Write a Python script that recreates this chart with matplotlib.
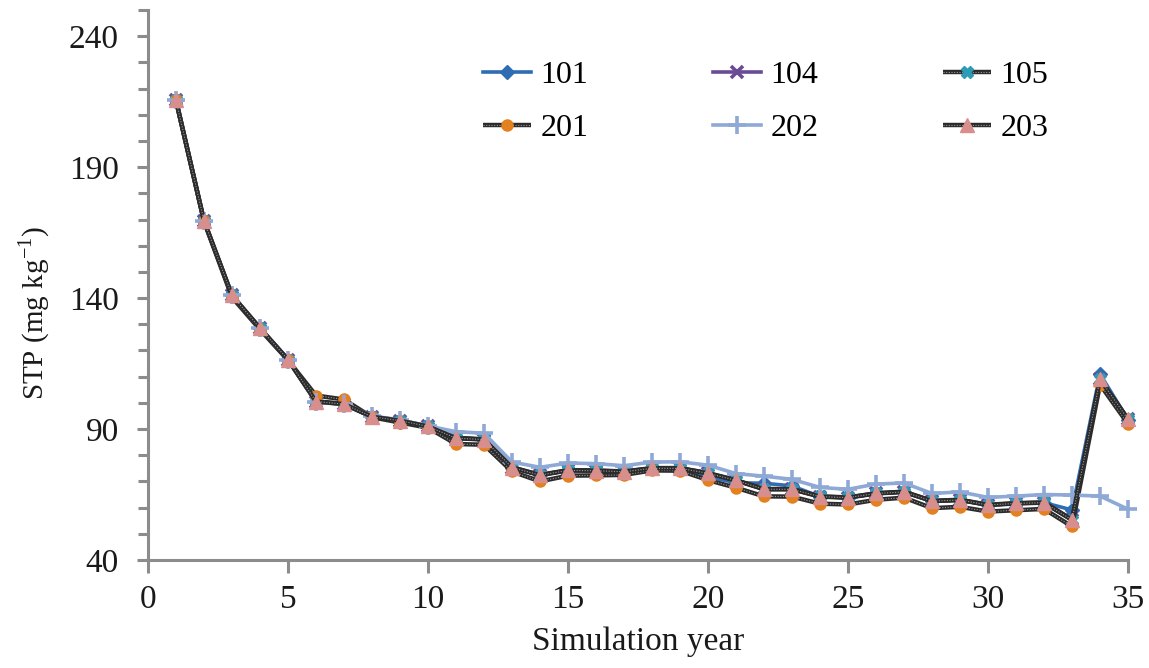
"""STP over simulation years for six scenarios, redrawn from the reference chart."""

import matplotlib

matplotlib.use("Agg")
import matplotlib.pyplot as plt
from matplotlib.legend_handler import HandlerTuple
from matplotlib.ticker import MultipleLocator

plt.rcParams["font.family"] = ["Liberation Serif", "DejaVu Serif"]
plt.rcParams["mathtext.fontset"] = "custom"
plt.rcParams["mathtext.rm"] = "Liberation Serif"

YEARS = list(range(1, 36))

STP_101 = [215.5, 169.5, 141.0, 128.5, 116.5, 100.5, 99.5, 94.5, 92.8, 90.6,
           86.8, 86.0, 75.3, 72.4, 74.2, 74.1, 73.7, 75.0, 75.0, 71.8,
           69.5, 69.3, 68.3, 64.2, 63.8, 65.4, 66.0, 62.5, 62.9, 61.0,
           61.6, 61.9, 59.1, 111.0, 93.6]
STP_104 = [215.5, 169.5, 141.0, 128.5, 116.5, 100.5, 99.5, 94.7, 93.2, 91.0,
           86.5, 86.0, 75.3, 72.4, 74.2, 74.1, 73.7, 75.0, 75.0, 73.1,
           70.4, 67.0, 67.0, 64.2, 63.8, 65.4, 66.0, 62.5, 62.9, 61.0,
           61.6, 61.9, 55.3, 109.0, 93.7]
STP_105 = [215.5, 169.5, 141.0, 128.5, 116.5, 100.6, 99.6, 94.7, 93.2, 91.0,
           86.6, 86.1, 75.4, 72.5, 74.3, 74.2, 73.8, 75.1, 75.1, 73.2,
           70.5, 67.1, 67.1, 64.3, 63.9, 65.5, 66.1, 62.6, 63.0, 61.1,
           61.7, 62.0, 55.4, 109.1, 93.8]
STP_201 = [215.5, 169.3, 140.3, 128.0, 116.3, 102.8, 101.3, 94.5, 92.5, 90.5,
           84.3, 84.0, 73.8, 70.0, 72.2, 72.3, 72.5, 74.2, 74.1, 70.5,
           67.6, 64.3, 64.2, 61.5, 61.2, 63.0, 63.8, 59.8, 60.3, 58.5,
           59.0, 59.5, 52.8, 107.0, 92.0]
STP_202 = [215.5, 169.5, 141.0, 128.5, 116.5, 100.2, 99.5, 95.0, 93.5, 91.2,
           89.0, 88.4, 77.4, 75.4, 77.0, 76.8, 76.0, 77.4, 77.5, 76.2,
           73.0, 72.0, 70.8, 67.7, 67.0, 69.0, 69.4, 65.4, 66.0, 63.9,
           64.4, 65.0, 64.8, 64.4, 59.4]
STP_203 = [215.5, 169.5, 141.0, 128.5, 116.5, 100.5, 99.5, 94.7, 93.2, 91.0,
           86.5, 86.0, 75.3, 72.4, 74.2, 74.1, 73.7, 75.0, 75.0, 73.1,
           70.4, 67.0, 67.0, 64.2, 63.8, 65.4, 66.0, 62.5, 62.9, 61.0,
           61.6, 61.9, 55.3, 109.0, 93.7]

X_TICKS = [0, 5, 10, 15, 20, 25, 30, 35]
Y_TICKS = [40, 90, 140, 190, 240]

DARK = "#2b2b2b"


def plain_series(ax, y, color, marker, ms, mew=1.0, lw=2.6):
    line, = ax.plot(YEARS, y, color=color, lw=lw, marker=marker, ms=ms,
                    mfc=color, mec=color, mew=mew, clip_on=False)
    return line


def striped_series(ax, y, mcolor, marker, ms, mew=1.0):
    # Excel-style compound line: dark band with faint dots in the middle
    dark, = ax.plot(YEARS, y, color=DARK, lw=3.2, solid_capstyle="butt", clip_on=False)
    dots, = ax.plot(YEARS, y, color="#9a9a9a", lw=0.8, ls=(0, (1.0, 1.4)), clip_on=False)
    mk, = ax.plot(YEARS, y, ls="none", marker=marker, ms=ms, mfc=mcolor, mec=mcolor,
                  mew=mew, clip_on=False)
    return (dark, dots, mk)


def main():
    fig = plt.figure(figsize=(11.49, 6.68), dpi=100)
    ax = fig.add_axes([148 / 1149, 108 / 668, 980 / 1149, 550 / 668])

    h101 = plain_series(ax, STP_101, "#2f6db3", "D", 7.5)
    h104 = plain_series(ax, STP_104, "#6a4c96", "x", 9, mew=2.6)
    h105 = striped_series(ax, STP_105, "#2b9bb7", "X", 8.5)
    h201 = striped_series(ax, STP_201, "#e3801f", "o", 8)
    h202 = plain_series(ax, STP_202, "#8fa9d6", "+", 13, mew=2.6)
    h203 = striped_series(ax, STP_203, "#d98e8e", "^", 10)

    ax.set_xlim(0, 35)
    ax.set_ylim(40, 250)
    ax.set_xticks(X_TICKS)
    ax.set_yticks(Y_TICKS)
    ax.yaxis.set_minor_locator(MultipleLocator(10))

    for side in ("top", "right"):
        ax.spines[side].set_visible(False)
    for side in ("left", "bottom"):
        ax.spines[side].set_color("#8c8c8c")
        ax.spines[side].set_linewidth(2.2)

    ax.tick_params(axis="both", which="both", color="#8c8c8c", width=2.2,
                   labelsize=24, labelcolor="#1a1a1a")
    ax.tick_params(axis="y", which="major", length=8, pad=13)
    ax.tick_params(axis="y", which="minor", length=7)
    ax.tick_params(axis="x", which="major", length=9, pad=9)

    ax.set_xlabel("Simulation year", fontsize=24, color="#1a1a1a", labelpad=8)
    ax.set_ylabel("STP (mg kg$^{\\mathregular{-1}}$)", fontsize=21, color="#1a1a1a")
    ax.yaxis.set_label_coords(-0.098, 0.45)

    # column-wise fill -> rows read 101 104 105 / 201 202 203
    handles = [h101, h201, h104, h202, h105, h203]
    labels = ["101", "201", "104", "202", "105", "203"]
    fig.legend(handles, labels, ncol=3, loc="upper left",
               bbox_to_anchor=(483 / 1149, 1 - 61 / 668),
               frameon=False, fontsize=23, handlelength=1.5, handletextpad=0.3,
               columnspacing=3.9, labelspacing=0.72, borderpad=0, borderaxespad=0,
               handler_map={tuple: HandlerTuple(ndivide=1)})

    fig.savefig("out.png", dpi=100)
    plt.close(fig)


if __name__ == "__main__":
    main()
